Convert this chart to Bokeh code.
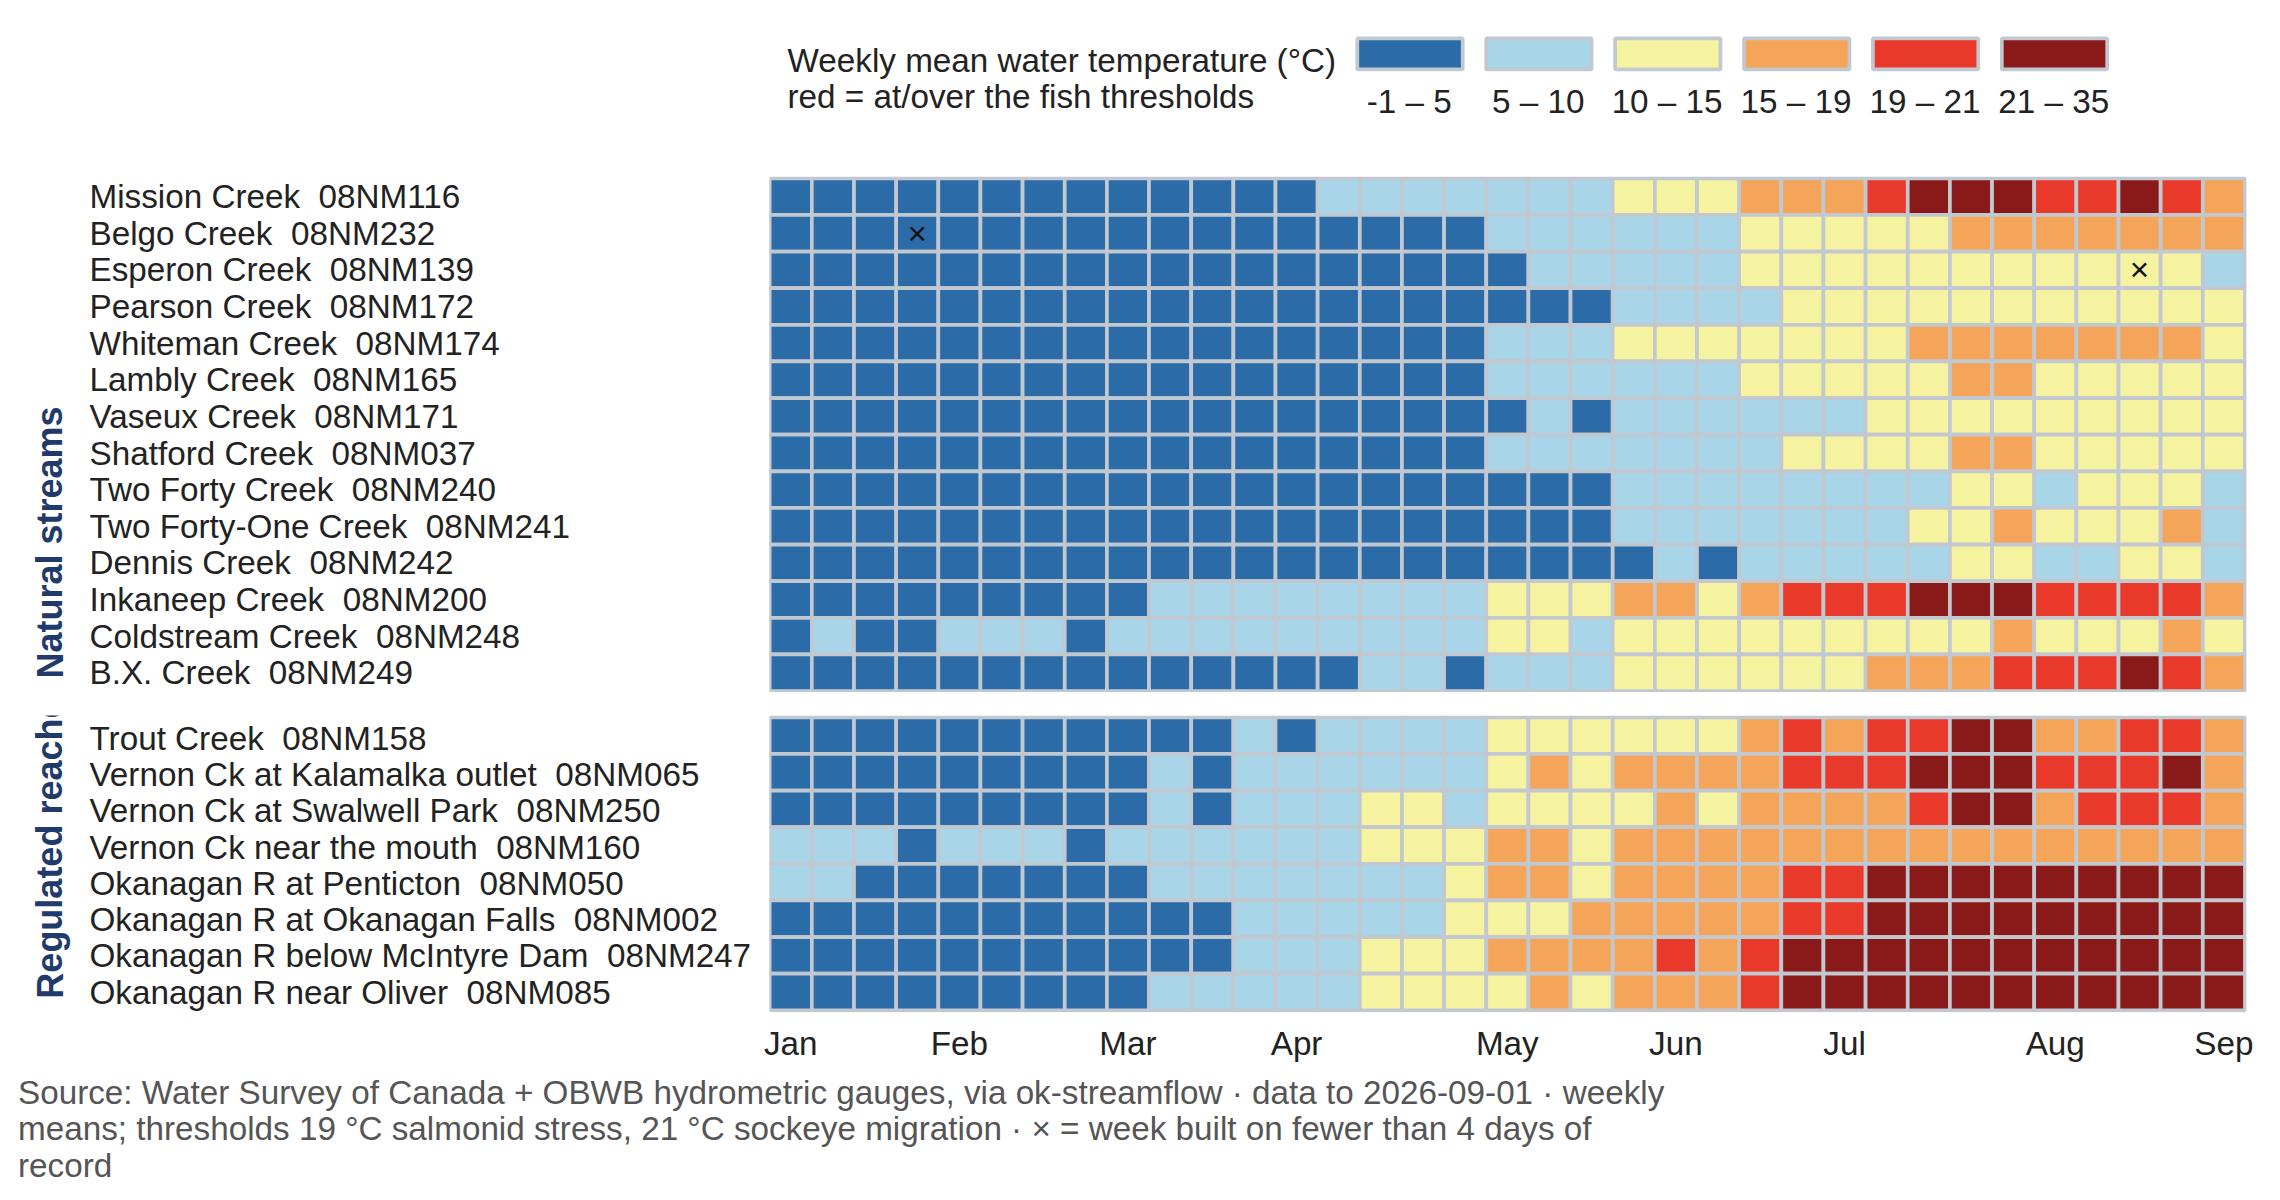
from bokeh.core.properties import value
from bokeh.embed import file_html
from bokeh.resources import INLINE
from bokeh.layouts import column, row
from bokeh.models import FixedTicker, Range1d
from bokeh.plotting import figure

GAP = " \u00a0"  # two spaces between name and gauge id that survive SVG whitespace collapsing
natural_stations = [
    "Mission Creek" + GAP + "08NM116", "Belgo Creek" + GAP + "08NM232", "Esperon Creek" + GAP + "08NM139",
    "Pearson Creek" + GAP + "08NM172", "Whiteman Creek" + GAP + "08NM174", "Lambly Creek" + GAP + "08NM165",
    "Vaseux Creek" + GAP + "08NM171", "Shatford Creek" + GAP + "08NM037", "Two Forty Creek" + GAP + "08NM240",
    "Two Forty-One Creek" + GAP + "08NM241", "Dennis Creek" + GAP + "08NM242", "Inkaneep Creek" + GAP + "08NM200",
    "Coldstream Creek" + GAP + "08NM248", "B.X. Creek" + GAP + "08NM249",
]
regulated_stations = [
    "Trout Creek" + GAP + "08NM158", "Vernon Ck at Kalamalka outlet" + GAP + "08NM065",
    "Vernon Ck at Swalwell Park" + GAP + "08NM250", "Vernon Ck near the mouth" + GAP + "08NM160",
    "Okanagan R at Penticton" + GAP + "08NM050", "Okanagan R at Okanagan Falls" + GAP + "08NM002",
    "Okanagan R below McIntyre Dam" + GAP + "08NM247", "Okanagan R near Oliver" + GAP + "08NM085",
]
# temperature class of each of the 35 weeks, one string per station (0..5 index bin_labels)
natural_bins = [
    "00000000000001111111222333455544543",
    "00000000000000000111111222223333333",
    "00000000000000000011111222222222221",
    "00000000000000000000111122222222222",
    "00000000000000000111222222233333332",
    "00000000000000000111111222223322222",
    "00000000000000000010111111222222222",
    "00000000000000000111111122223322222",
    "00000000000000000000111111112212221",
    "00000000000000000000111111122322231",
    "00000000000000000000010111112211221",
    "00000000011111111222332344455544443",
    "01001110111111111221222222222322232",
    "00000000000000110111222222333444543",
]
regulated_bins = [
    "00000000000101111222222343445533443",
    "00000000010111111232333344455544453",
    "00000000010111221222232333345534443",
    "11101110111111222332333333333333333",
    "11000000011111112332333344555555555",
    "00000000000111112223333344555555555",
    "00000000000111222333343455555555555",
    "00000000011111222232333455555555555",
]
week_labels = {0: "Jan", 4: "Feb", 8: "Mar", 12: "Apr", 17: "May", 21: "Jun", 25: "Jul", 30: "Aug", 34: "Sep"}
bin_labels = ["-1 \u2013 5", "5 \u2013 10", "10 \u2013 15", "15 \u2013 19", "19 \u2013 21", "21 \u2013 35"]
bin_colors = ["#2b6ca8", "#a9d5e8", "#f5f2a0", "#f4a55a", "#e8392b", "#8a1a1a"]
sparse_natural = [(3, 1), (32, 2)]  # (week, station row) built on fewer than 4 days
legend_title = ["Weekly mean water temperature (\u00b0C)", "red = at/over the fish thresholds"]
caption_lines = [
    "Source: Water Survey of Canada + OBWB hydrometric gauges, via ok-streamflow \u00b7 data to 2026-09-01 \u00b7 weekly",
    "means; thresholds 19 \u00b0C salmonid stress, 21 \u00b0C sockeye migration \u00b7 \u00d7 = week built on fewer than 4 days of",
    "record",
]

FONT = value("Liberation Sans")
FS = "33.25px"
INK = "#222222"
GRID = "#c2c8d0"
LW = 3.7
XPITCH, YPITCH = 42.15, 36.62
SIDE_W = 755
FRAME_L, FRAME_R = 769, 2246
LINE_L = 769.2
FIG_R = 2272
LABEL_X = 89
STRIP_X = 49.5


def base(width, height, x_range, y_range, **kw):
    p = figure(width=width, height=height, x_range=x_range, y_range=y_range,
               output_backend="svg", toolbar_location=None,
               min_border_left=kw.pop("left", 0), min_border_right=kw.pop("right", 0),
               min_border_top=kw.pop("top", 0), min_border_bottom=kw.pop("bottom", 0))
    p.outline_line_color = None
    p.grid.visible = False
    p.xaxis.visible = False
    p.yaxis.visible = False
    p.background_fill_color = None
    p.border_fill_color = None
    return p


def y_limits(frame_top, frame_bottom, line_top):
    return ((frame_bottom - line_top) / YPITCH - 0.5, (frame_top - line_top) / YPITCH - 0.5)


def panel(rows, frame_top, frame_bottom, line_top, crosses, top=0, bottom=0):
    x0 = (FRAME_L - LINE_L) / XPITCH - 0.5
    x1 = (FRAME_R - LINE_L) / XPITCH - 0.5
    y1, y0 = y_limits(frame_top, frame_bottom, line_top)
    p = base(FIG_R - SIDE_W, frame_bottom - frame_top + top + bottom, Range1d(x0, x1), Range1d(y1, y0),
             left=FRAME_L - SIDE_W, right=FIG_R - FRAME_R, top=top, bottom=bottom)
    xs, ys, fills = [], [], []
    for r, bins in enumerate(rows):
        for w, b in enumerate(bins):
            xs.append(w)
            ys.append(r)
            fills.append(bin_colors[int(b)])
    p.rect(x=xs, y=ys, width=1, height=1, fill_color=fills, line_color=GRID, line_width=LW)
    if crosses:
        p.text(x=[c[0] for c in crosses], y=[c[1] for c in crosses], text=["\u00d7"] * len(crosses),
               text_font=FONT, text_font_size=FS, text_color="#111111",
               text_align="center", text_baseline="middle")
    return p


def side(stations, group, frame_top, frame_bottom, line_top, top=0, bottom=0):
    y1, y0 = y_limits(frame_top, frame_bottom, line_top)
    p = base(SIDE_W, frame_bottom - frame_top + top + bottom, Range1d(0, SIDE_W), Range1d(y1, y0),
             top=top, bottom=bottom)
    p.text(x=[LABEL_X] * len(stations), y=list(range(len(stations))), text=stations,
           text_font=FONT, text_font_size=FS, text_color=INK, text_align="left", text_baseline="middle")
    p.text(x=[STRIP_X], y=[y1 - 14 / YPITCH], text=[group], angle=1.5708, text_font=FONT,
           text_font_size="36px", text_font_style="bold", text_color="#1f3a6b",
           text_align="left", text_baseline="middle")
    return p


# legend
leg = base(FIG_R, 176, Range1d(0, FIG_R), Range1d(176, 0))
LEG_X = [1409.5 + i * 128.9 for i in range(len(bin_labels))]
leg.rect(x=LEG_X, y=[53.4] * 6, width=105.4, height=31, width_units="screen", height_units="screen",
         fill_color=bin_colors, line_color=GRID, line_width=LW)
leg.text(x=[v - 0.7 for v in LEG_X], y=[101.2] * 6, text=bin_labels, text_font=FONT, text_font_size=FS,
         text_color=INK, text_align="center", text_baseline="middle")
leg.text(x=[787, 787], y=[60, 96.2], text=legend_title, text_font=FONT, text_font_size=FS,
         text_color=INK, text_align="left", text_baseline="middle")

# panels
p1 = panel(natural_bins, 176, 692, 177.85, sparse_natural)
s1 = side(natural_stations, "Natural streams", 176, 692, 177.85)
p2 = panel(regulated_bins, 715, 1012, 716.85, [], top=23, bottom=60)
s2 = side(regulated_stations, "Regulated reaches", 712, 1012, 716.85, top=20, bottom=60)

p2.xaxis.visible = True
ax = p2.xaxis[0]
ax.ticker = FixedTicker(ticks=list(week_labels))
ax.major_label_overrides = week_labels
ax.axis_line_color = None
ax.major_tick_line_color = None
ax.minor_tick_line_color = None
ax.major_label_text_font = "Liberation Sans"
ax.major_label_text_font_size = FS
ax.major_label_text_color = INK
ax.major_label_standoff = 6

# caption
cap = base(FIG_R, 120, Range1d(0, FIG_R), Range1d(1192, 1072))
cap.text(x=[17.5] * 3, y=[1091.7, 1128, 1164.5], text=caption_lines, text_font=FONT, text_font_size=FS,
         text_color="#555555", text_align="left", text_baseline="middle")

layout = column(leg, row(s1, p1, spacing=0), row(s2, p2, spacing=0), cap, spacing=0)
open("out.html", "w").write(file_html(layout, INLINE))
